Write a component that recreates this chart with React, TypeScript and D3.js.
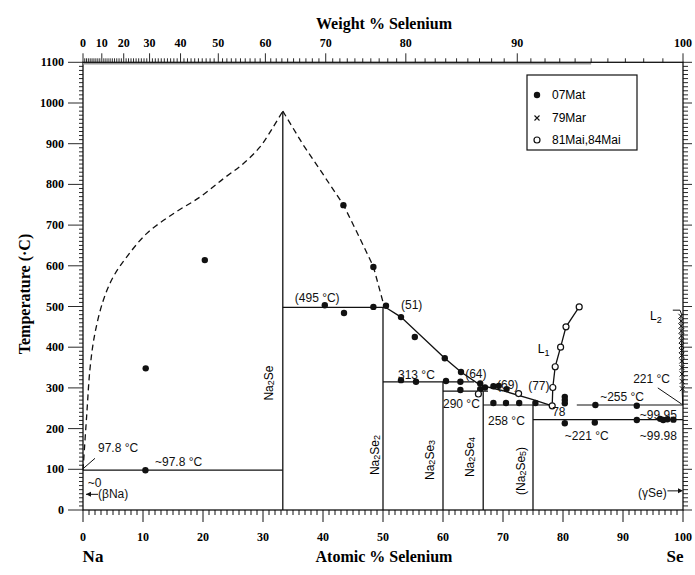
import React from 'react';
import * as d3 from 'd3';

const W = 695;
const H = 575;

// ---- data (atomic % Se, temperature °C) ----
const liqLeftDashed: [number, number][] = [[0, 97.8], [0.6, 229], [1.2, 352], [2.0, 435], [3.4, 516], [5.05, 573], [7.3, 622], [10.6, 679], [15.05, 728], [19.5, 769], [23.4, 814], [26.7, 851], [29.5, 892], [31.7, 941], [33.3, 980]];
const liqRightDashed: [number, number][] = [[33.3, 980], [36.7, 897], [40, 825], [43.4, 750], [46, 672], [48.4, 598], [50.2, 500]];
const liqSolid: [number, number][] = [[50.2, 500], [53, 474], [60.3, 373], [63, 339], [66.2, 307], [70, 293], [75, 271], [78.2, 256]];
const liqL1: [number, number][] = [[78.2, 256], [78.3, 301], [78.7, 352], [79.6, 400], [80.5, 450], [82.7, 499]];
const liqL2: [number, number][] = [[99.95, 258], [99.85, 300], [99.75, 400], [99.65, 478]];

const compoundNames = ['Na2Se', 'Na2Se2', 'Na2Se3', 'Na2Se4', '(Na2Se5)'];
const compoundX = [33.3, 50, 60, 66.7, 75];
const compoundTop = [980, 498, 315, 292, 258];
const compoundLabelT = [312, 135, 123, 130, 96];
const compoundLabelX = [31.0, 48.7, 57.8, 64.5, 73.0];

const isoT = [97.8, 498, 315, 292, 258, 258, 222];
const isoX0 = [0, 33.3, 50, 60, 66.7, 82.3, 75];
const isoX1 = [33.3, 50.2, 65.2, 67.5, 78.3, 100, 100];

const dots07Mat: [number, number][] = [[10.4, 97.8], [10.45, 348], [20.3, 614], [43.4, 749], [48.4, 597], [40.3, 503], [43.5, 484], [48.4, 499], [50.5, 502], [53, 474], [55.3, 425], [60.3, 373], [63, 339], [53, 319], [55.5, 315], [60.5, 317], [62.9, 315], [62.9, 295], [66.2, 311], [66.2, 297], [67, 301], [68.4, 304], [69.3, 305], [70.6, 297], [68.4, 263], [70.5, 263], [72.7, 263], [75.4, 263], [80.3, 262], [80.3, 270], [80.3, 278], [80.3, 213], [85.4, 258], [85.3, 215], [92.3, 256], [92.3, 221], [96.2, 224], [96.7, 221], [97.4, 223], [98.4, 222]];
const circles81Mai: [number, number][] = [[78.2, 256], [78.3, 301], [78.7, 352], [79.6, 400], [80.5, 450], [82.7, 499], [65.9, 285], [72.6, 286]];
const crosses79Mar: [number, number][] = [[99.65, 476], [99.68, 464], [99.7, 452], [99.72, 440], [99.73, 428], [99.74, 416], [99.76, 404], [99.77, 392], [99.78, 380], [99.8, 366], [99.82, 350], [99.84, 334], [99.86, 316], [99.88, 298]];

const annText = ['97.8 °C', '~97.8 °C', '~0', '(βNa)', '(495 °C)', '(51)', '313 °C', '(64)', '(69)', '(77)', '290 °C', '258 °C', '78', '~255 °C', '~221 °C', '~99.95', '~99.98', '221 °C', '(γSe)'];
const annX = [2.5, 12, 0.8, 2.5, 35.3, 53, 52.5, 63.7, 69, 74.2, 60, 67.5, 78.2, 86.2, 80.3, 92.8, 92.8, 91.7, 92.5];
const annT = [142, 108, 56, 29.5, 510, 493, 321, 324, 297, 294.6, 250, 208.7, 230.8, 267.6, 171.9, 223.4, 171.9, 311.8, 32];

const weightMajor = [0, 10, 20, 30, 40, 50, 60, 70, 80, 90, 100];
const tempMajor = [0, 100, 200, 300, 400, 500, 600, 700, 800, 900, 1000, 1100];
const atomicMajor = [0, 10, 20, 30, 40, 50, 60, 70, 80, 90, 100];

const legendLabels = ['07Mat', '79Mar', '81Mai,84Mai'];

// weight % Se -> atomic % Se
const wtToAt = (w: number) => {
  const a = w / 78.96;
  const b = (100 - w) / 22.99;
  return (a / (a + b)) * 100;
};

const serif = '"Liberation Serif", "Times New Roman", serif';
const sans = '"Liberation Sans", Arial, sans-serif';

function Formula({ s, x, y, size }: { s: string; x: number; y: number; size: number }) {
  const parts: { t: string; sub: boolean }[] = [];
  for (const ch of s) {
    const sub = /[0-9]/.test(ch);
    if (parts.length && parts[parts.length - 1].sub === sub) parts[parts.length - 1].t += ch;
    else parts.push({ t: ch, sub });
  }
  return (
    <text x={x} y={y} transform={`rotate(-90 ${x} ${y})`} textAnchor="middle" dominantBaseline="central" fontFamily={sans} fontSize={size}>
      {parts.map((p, i) => (
        <tspan key={i} fontSize={p.sub ? size * 0.75 : size} baselineShift={p.sub ? '-25%' : undefined}>{p.t}</tspan>
      ))}
    </text>
  );
}

export default function App() {
  const x = d3.scaleLinear().domain([0, 100]).range([83, 683]);
  const y = d3.scaleLinear().domain([0, 1100]).range([510, 62.3]);
  const line = d3.line<[number, number]>().x(d => x(d[0])).y(d => y(d[1]));
  const smooth = d3.line<[number, number]>().x(d => x(d[0])).y(d => y(d[1])).curve(d3.curveCatmullRom);

  const tempMinor = d3.range(0, 1101, 10);
  const atomicMinor = d3.range(0, 101, 1);
  const weightMinor = d3.range(0, 101, 1);

  const stroke = '#111';

  return (
    <svg width={W} height={H} style={{ position: 'absolute', left: 0, top: 0, background: '#fff' }}>
      <rect x={0} y={0} width={W} height={H} fill="#fff" />

      {/* frame */}
      <rect x={x(0)} y={y(1100)} width={x(100) - x(0)} height={y(0) - y(1100)} fill="none" stroke={stroke} strokeWidth={1.3} />
      <line x1={x(0)} x2={x(wtToAt(95))} y1={y(1100) + 1.5} y2={y(1100) + 1.5} stroke="#999" strokeWidth={1.5} />

      {/* bottom axis */}
      {atomicMinor.map(v => (
        <line key={'bm' + v} x1={x(v)} x2={x(v)} y1={y(0)} y2={y(0) + (v % 10 === 0 ? 12 : 5)} stroke={stroke} strokeWidth={1} />
      ))}
      {atomicMajor.map(v => (
        <text key={'bl' + v} x={x(v)} y={541} textAnchor="middle" fontFamily={serif} fontWeight="bold" fontSize={12}>{v}</text>
      ))}
      <text x={93} y={562} textAnchor="middle" fontFamily={serif} fontWeight="bold" fontSize={17}>Na</text>
      <text x={384} y={562} textAnchor="middle" fontFamily={serif} fontWeight="bold" fontSize={16}>Atomic % Selenium</text>
      <text x={675} y={562} textAnchor="middle" fontFamily={serif} fontWeight="bold" fontSize={17}>Se</text>

      {/* top axis (weight %) */}
      {weightMinor.map(v => (
        <line key={'tm' + v} x1={x(wtToAt(v))} x2={x(wtToAt(v))} y1={y(1100)} y2={y(1100) - (v % 10 === 0 ? 9 : 4)} stroke={stroke} strokeWidth={0.9} />
      ))}
      {weightMajor.map(v => (
        <text key={'tl' + v} x={x(wtToAt(v))} y={47} textAnchor="middle" fontFamily={serif} fontWeight="bold" fontSize={12}>{v}</text>
      ))}
      <text x={384} y={29} textAnchor="middle" fontFamily={serif} fontWeight="bold" fontSize={16}>Weight % Selenium</text>

      {/* left axis */}
      {tempMinor.map(v => (
        <line key={'lm' + v} x1={x(0) - (v % 100 === 0 ? 15 : 4)} x2={x(0)} y1={y(v)} y2={y(v)} stroke={stroke} strokeWidth={0.9} />
      ))}
      {tempMajor.map(v => (
        <text key={'ll' + v} x={64} y={y(v)} textAnchor="end" dominantBaseline="central" fontFamily={serif} fontWeight="bold" fontSize={12}>{v}</text>
      ))}
      <text x={24} y={294} transform="rotate(-90 24 294)" textAnchor="middle" dominantBaseline="central" fontFamily={serif} fontWeight="bold" fontSize={16}>Temperature (·C)</text>

      {/* right axis */}
      {tempMinor.map(v => (
        <line key={'rm' + v} x1={x(100)} x2={x(100) + (v % 100 === 0 ? 9 : 5)} y1={y(v)} y2={y(v)} stroke={stroke} strokeWidth={0.9} />
      ))}

      {/* compounds */}
      {compoundX.map((c, i) => (
        <line key={'c' + i} x1={x(c)} x2={x(c)} y1={y(0)} y2={y(compoundTop[i])} stroke={stroke} strokeWidth={1.3} />
      ))}
      {compoundNames.map((n, i) => (
        <Formula key={'cn' + i} s={n} x={x(compoundLabelX[i])} y={y(compoundLabelT[i])} size={12} />
      ))}

      {/* isotherms */}
      {isoT.map((t, i) => (
        <line key={'iso' + i} x1={x(isoX0[i])} x2={x(isoX1[i])} y1={y(t)} y2={y(t)} stroke={stroke} strokeWidth={1.2} />
      ))}

      {/* liquidus */}
      <path d={smooth(liqLeftDashed) || ''} fill="none" stroke={stroke} strokeWidth={1.3} strokeDasharray="6,4" />
      <path d={line(liqRightDashed) || ''} fill="none" stroke={stroke} strokeWidth={1.3} strokeDasharray="6,4" />
      <path d={line(liqSolid) || ''} fill="none" stroke={stroke} strokeWidth={1.3} />
      <path d={line(liqL1) || ''} fill="none" stroke={stroke} strokeWidth={1.3} />
      <path d={line(liqL2) || ''} fill="none" stroke={stroke} strokeWidth={1} />

      {/* leaders and arrows */}
      <line x1={x(2.0)} y1={y(127)} x2={x(0.05)} y2={y(102)} stroke={stroke} strokeWidth={1} />
      <line x1={x(2.5)} y1={y(38.5)} x2={x(0.5)} y2={y(38.5)} stroke={stroke} strokeWidth={1} />
      <path d={`M${x(0.5)},${y(38.5)} l5,-2.5 l0,5 z`} fill={stroke} />
      <line x1={x(97.4)} y1={y(47)} x2={x(99.6)} y2={y(47)} stroke={stroke} strokeWidth={1} />
      <path d={`M${x(100)},${y(47)} l-5,-2.5 l0,5 z`} fill={stroke} />
      <line x1={x(95.8)} y1={y(300)} x2={x(99.8)} y2={y(260)} stroke={stroke} strokeWidth={1} />
      <polyline points={`${x(98.3)},${y(491)} ${x(99.5)},${y(491)} ${x(99.8)},${y(479)}`} fill="none" stroke={stroke} strokeWidth={1} />

      {/* data markers */}
      {dots07Mat.map((d, i) => (
        <circle key={'d' + i} cx={x(d[0])} cy={y(d[1])} r={3.2} fill={stroke} />
      ))}
      {circles81Mai.map((d, i) => (
        <circle key={'o' + i} cx={x(d[0])} cy={y(d[1])} r={3} fill="#fff" stroke={stroke} strokeWidth={1.2} />
      ))}
      {crosses79Mar.map((d, i) => (
        <path key={'x' + i} d={`M${x(d[0]) - 2.5},${y(d[1]) - 2.5} L${x(d[0]) + 2.5},${y(d[1]) + 2.5} M${x(d[0]) - 2.5},${y(d[1]) + 2.5} L${x(d[0]) + 2.5},${y(d[1]) - 2.5}`} stroke={stroke} strokeWidth={1} />
      ))}

      {/* annotations */}
      {annText.map((t, i) => (
        <text key={'a' + i} x={x(annX[i])} y={y(annT[i])} fontFamily={sans} fontSize={12} fill={stroke}>{t}</text>
      ))}
      <text x={x(75.8)} y={y(385.5)} fontFamily={sans} fontSize={12}>L<tspan fontSize={9} dy={3}>1</tspan></text>
      <text x={x(94.5)} y={y(466.5)} fontFamily={sans} fontSize={12}>L<tspan fontSize={9} dy={3}>2</tspan></text>

      {/* legend */}
      <rect x={527} y={75} width={110} height={75} fill="#fff" stroke={stroke} strokeWidth={1.2} />
      <circle cx={537} cy={95} r={3.2} fill={stroke} />
      <text x={552} y={95} dominantBaseline="central" fontFamily={sans} fontSize={12}>{legendLabels[0]}</text>
      <path d="M534.5,115.5 L539.5,120.5 M534.5,120.5 L539.5,115.5" stroke={stroke} strokeWidth={1.1} />
      <text x={552} y={118} dominantBaseline="central" fontFamily={sans} fontSize={12}>{legendLabels[1]}</text>
      <circle cx={537} cy={140} r={3} fill="#fff" stroke={stroke} strokeWidth={1.2} />
      <text x={552} y={140} dominantBaseline="central" fontFamily={sans} fontSize={12}>{legendLabels[2]}</text>
    </svg>
  );
}
